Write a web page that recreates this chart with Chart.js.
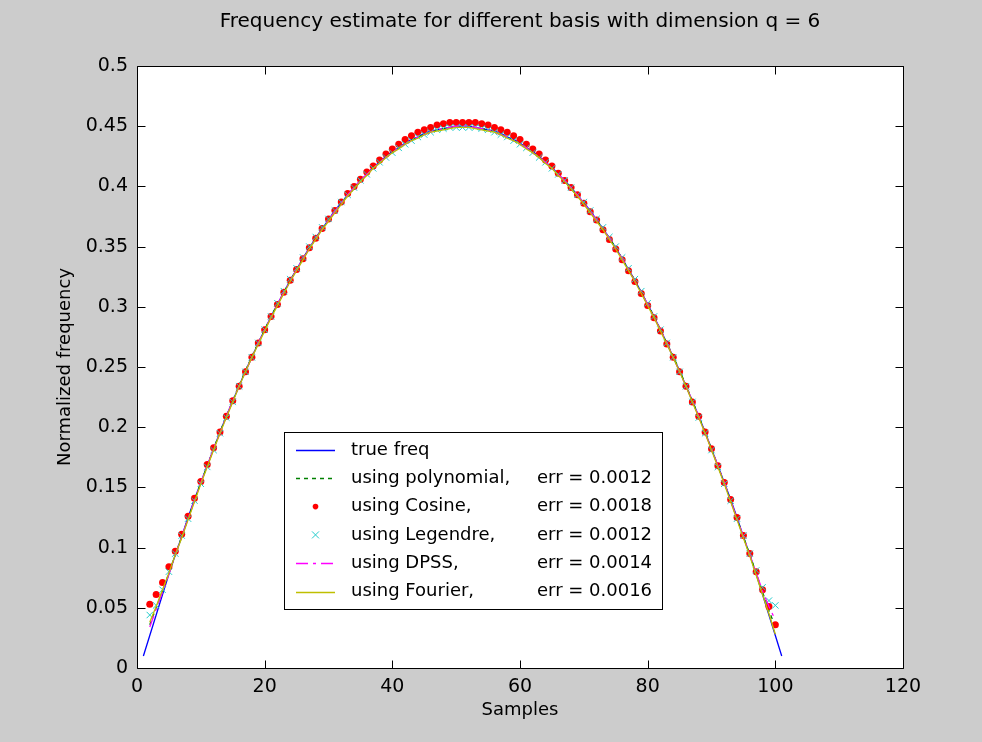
<!DOCTYPE html>
<html>
<head>
<meta charset="utf-8">
<title>Frequency estimate</title>
<script src="https://cdn.jsdelivr.net/npm/chart.js@4.4.1/dist/chart.umd.min.js"></script>
<style>
  html, body { margin: 0; padding: 0; background: #cccccc; }
  #chart { display: block; }
</style>
</head>
<body>
<canvas id="chart" width="982" height="742"></canvas>
<script>
// ticks
const xTicks = [0, 20, 40, 60, 80, 100, 120];
const xTickLabels = ['0', '20', '40', '60', '80', '100', '120'];
const yTicks = [0, 0.05, 0.1, 0.15, 0.2, 0.25, 0.3, 0.35, 0.4, 0.45, 0.5];
const yTickLabels = ['0', '0.05', '0.1', '0.15', '0.2', '0.25', '0.3', '0.35', '0.4', '0.45', '0.5'];

// legend text: name + error column
const seriesNames = ['true freq', 'using polynomial,', 'using Cosine,', 'using Legendre,', 'using DPSS,', 'using Fourier,'];
const seriesErrs = ['', 'err = 0.0012', 'err = 0.0018', 'err = 0.0012', 'err = 0.0014', 'err = 0.0016'];

// true frequency, samples 1..101
const trueFirst = 1;
const trueFreq = [
  0.010, 0.027, 0.044, 0.061, 0.078, 0.094, 0.109, 0.125, 0.140, 0.154,
  0.168, 0.182, 0.196, 0.209, 0.222, 0.234, 0.247, 0.258, 0.270, 0.281,
  0.292, 0.302, 0.312, 0.322, 0.331, 0.340, 0.349, 0.357, 0.365, 0.372,
  0.380, 0.386, 0.393, 0.399, 0.405, 0.410, 0.416, 0.420, 0.425, 0.429,
  0.432, 0.436, 0.439, 0.441, 0.444, 0.446, 0.447, 0.448, 0.449, 0.450,
  0.450,
  0.450, 0.449, 0.448, 0.447, 0.446, 0.444, 0.441, 0.439, 0.436, 0.432,
  0.429, 0.425, 0.420, 0.416, 0.410, 0.405, 0.399, 0.393, 0.386, 0.380,
  0.372, 0.365, 0.357, 0.349, 0.340, 0.331, 0.322, 0.312, 0.302, 0.292,
  0.281, 0.270, 0.258, 0.247, 0.234, 0.222, 0.209, 0.196, 0.182, 0.168,
  0.154, 0.140, 0.125, 0.109, 0.094, 0.078, 0.061, 0.044, 0.027, 0.010
];

// estimates, samples 2..100
const estFirst = 2;
const polyEst = [
  0.036, 0.050, 0.064, 0.079, 0.094, 0.109, 0.124, 0.139, 0.154,
  0.168, 0.182, 0.196, 0.209, 0.222, 0.235, 0.247, 0.259, 0.270, 0.281,
  0.292, 0.302, 0.312, 0.322, 0.331, 0.340, 0.349, 0.357, 0.365, 0.372,
  0.379, 0.386, 0.392, 0.398, 0.404, 0.410, 0.415, 0.420, 0.424, 0.428,
  0.432, 0.435, 0.438, 0.441, 0.443, 0.445, 0.447, 0.448, 0.449, 0.449,
  0.449, 0.449, 0.449, 0.448, 0.447, 0.445, 0.443, 0.441, 0.438, 0.435,
  0.432, 0.428, 0.424, 0.420, 0.415, 0.410, 0.404, 0.398, 0.392, 0.386,
  0.379, 0.372, 0.365, 0.357, 0.349, 0.340, 0.331, 0.322, 0.312, 0.302,
  0.292, 0.281, 0.270, 0.259, 0.247, 0.235, 0.222, 0.209, 0.196, 0.182,
  0.168, 0.154, 0.139, 0.124, 0.109, 0.094, 0.079, 0.063, 0.048, 0.034
];
const cosineEst = [
  0.053, 0.061, 0.071, 0.084, 0.097, 0.111, 0.126, 0.141, 0.155,
  0.169, 0.183, 0.196, 0.209, 0.222, 0.234, 0.246, 0.258, 0.270, 0.281,
  0.292, 0.302, 0.312, 0.322, 0.331, 0.340, 0.349, 0.357, 0.365, 0.373,
  0.380, 0.387, 0.394, 0.400, 0.406, 0.412, 0.417, 0.422, 0.427, 0.431,
  0.435, 0.439, 0.442, 0.445, 0.447, 0.449, 0.451, 0.452, 0.453, 0.453,
  0.453, 0.453, 0.453, 0.452, 0.451, 0.449, 0.447, 0.445, 0.442, 0.439,
  0.435, 0.431, 0.427, 0.422, 0.417, 0.411, 0.405, 0.399, 0.393, 0.386,
  0.379, 0.372, 0.364, 0.356, 0.348, 0.339, 0.330, 0.321, 0.311, 0.301,
  0.291, 0.280, 0.269, 0.258, 0.246, 0.234, 0.221, 0.209, 0.196, 0.182,
  0.168, 0.154, 0.140, 0.125, 0.110, 0.095, 0.080, 0.065, 0.051, 0.036
];
const legendreEst = [
  0.044, 0.052, 0.065, 0.080, 0.095, 0.110, 0.124, 0.139, 0.153,
  0.167, 0.181, 0.195, 0.208, 0.221, 0.234, 0.246, 0.258, 0.270, 0.281,
  0.292, 0.303, 0.313, 0.323, 0.332, 0.341, 0.350, 0.358, 0.366, 0.373,
  0.380, 0.387, 0.393, 0.399, 0.405, 0.410, 0.415, 0.420, 0.424, 0.428,
  0.432, 0.435, 0.438, 0.441, 0.443, 0.445, 0.447, 0.448, 0.449, 0.449,
  0.449, 0.449, 0.449, 0.448, 0.447, 0.445, 0.443, 0.441, 0.438, 0.435,
  0.432, 0.428, 0.424, 0.420, 0.415, 0.410, 0.405, 0.399, 0.393, 0.387,
  0.380, 0.373, 0.366, 0.358, 0.350, 0.341, 0.332, 0.323, 0.313, 0.303,
  0.292, 0.281, 0.270, 0.258, 0.246, 0.234, 0.221, 0.208, 0.195, 0.181,
  0.167, 0.153, 0.139, 0.124, 0.110, 0.095, 0.081, 0.067, 0.056, 0.052
];
const dpssEst = [
  0.034, 0.049, 0.063, 0.078, 0.094, 0.109, 0.124, 0.139, 0.154,
  0.168, 0.182, 0.195, 0.209, 0.222, 0.234, 0.246, 0.258, 0.270, 0.281,
  0.291, 0.302, 0.312, 0.321, 0.331, 0.340, 0.348, 0.357, 0.364, 0.372,
  0.379, 0.386, 0.393, 0.399, 0.405, 0.410, 0.415, 0.420, 0.424, 0.428,
  0.432, 0.435, 0.438, 0.441, 0.443, 0.445, 0.447, 0.448, 0.449, 0.450,
  0.450, 0.450, 0.449, 0.448, 0.447, 0.445, 0.443, 0.441, 0.438, 0.435,
  0.432, 0.428, 0.424, 0.420, 0.415, 0.410, 0.405, 0.399, 0.393, 0.386,
  0.379, 0.372, 0.364, 0.357, 0.348, 0.340, 0.331, 0.321, 0.312, 0.302,
  0.291, 0.281, 0.270, 0.258, 0.246, 0.234, 0.222, 0.209, 0.195, 0.182,
  0.168, 0.154, 0.139, 0.124, 0.109, 0.094, 0.079, 0.064, 0.051, 0.040
];
const fourierEst = [
  0.038, 0.051, 0.065, 0.079, 0.094, 0.108, 0.123, 0.138, 0.153,
  0.167, 0.181, 0.195, 0.208, 0.221, 0.234, 0.246, 0.258, 0.269, 0.280,
  0.291, 0.301, 0.311, 0.321, 0.330, 0.339, 0.348, 0.356, 0.364, 0.371,
  0.378, 0.385, 0.392, 0.398, 0.404, 0.409, 0.415, 0.419, 0.424, 0.428,
  0.431, 0.435, 0.438, 0.440, 0.443, 0.445, 0.446, 0.447, 0.448, 0.449,
  0.449, 0.449, 0.448, 0.447, 0.446, 0.445, 0.443, 0.440, 0.438, 0.435,
  0.431, 0.428, 0.424, 0.419, 0.415, 0.409, 0.404, 0.398, 0.392, 0.385,
  0.378, 0.371, 0.364, 0.356, 0.348, 0.339, 0.330, 0.321, 0.311, 0.301,
  0.291, 0.280, 0.269, 0.258, 0.246, 0.234, 0.221, 0.208, 0.195, 0.181,
  0.167, 0.153, 0.138, 0.123, 0.108, 0.093, 0.077, 0.061, 0.045, 0.028
];

const FONT = '"DejaVu Sans", sans-serif';
const toPoints = (vals, first) => vals.map((v, i) => ({ x: first + i, y: v }));

// draws the matlab-ish box, inward ticks and the legend
const matlabAxes = {
  id: 'matlabAxes',
  beforeDraw(chart) {
    const { ctx, chartArea: a } = chart;
    ctx.save();
    ctx.fillStyle = '#cccccc';
    ctx.fillRect(0, 0, chart.width, chart.height);
    ctx.fillStyle = '#ffffff';
    ctx.fillRect(a.left, a.top, a.right - a.left, a.bottom - a.top);
    ctx.restore();
  },
  afterDatasetsDraw(chart) {
    const { ctx, chartArea: a, scales } = chart;
    const L = Math.round(a.left) + 0.5, R = Math.round(a.right) + 0.5;
    const T = Math.round(a.top) + 0.5, B = Math.round(a.bottom) + 0.5;
    const tick = 8;
    ctx.save();
    ctx.strokeStyle = '#000000';
    ctx.lineWidth = 1;
    ctx.beginPath();
    ctx.rect(L, T, R - L, B - T);
    scales.x.ticks.forEach(t => {
      const px = Math.round(scales.x.getPixelForValue(t.value)) + 0.5;
      ctx.moveTo(px, B); ctx.lineTo(px, B - tick);
      ctx.moveTo(px, T); ctx.lineTo(px, T + tick);
    });
    scales.y.ticks.forEach(t => {
      const py = Math.round(scales.y.getPixelForValue(t.value)) + 0.5;
      ctx.moveTo(L, py); ctx.lineTo(L + tick, py);
      ctx.moveTo(R, py); ctx.lineTo(R - tick, py);
    });
    ctx.stroke();
    ctx.restore();
  },
  afterDraw(chart) {
    const ctx = chart.ctx;
    const box = { x: 284.5, y: 432.5, w: 378, h: 177 };
    const rowY0 = 450, rowGap = 28.3;
    const s0 = 296, s1 = 335, textX = 351, errX = 537;
    ctx.save();
    ctx.fillStyle = '#ffffff';
    ctx.fillRect(box.x, box.y, box.w, box.h);
    ctx.strokeStyle = '#000000';
    ctx.lineWidth = 1;
    ctx.strokeRect(box.x, box.y, box.w, box.h);
    ctx.font = '18px ' + FONT;
    ctx.textBaseline = 'middle';
    chart.data.datasets.forEach((ds, i) => {
      const y = rowY0 + i * rowGap;
      const mid = (s0 + s1) / 2;
      if (ds.showLine === false) {
        if (ds.pointStyle === 'circle') {
          ctx.fillStyle = ds.backgroundColor;
          ctx.beginPath();
          ctx.arc(mid, y, 2.8, 0, Math.PI * 2);
          ctx.fill();
        } else {
          ctx.strokeStyle = ds.borderColor;
          ctx.lineWidth = 1;
          ctx.beginPath();
          ctx.moveTo(mid - 3.5, y - 3.5); ctx.lineTo(mid + 3.5, y + 3.5);
          ctx.moveTo(mid + 3.5, y - 3.5); ctx.lineTo(mid - 3.5, y + 3.5);
          ctx.stroke();
        }
      } else {
        ctx.strokeStyle = ds.borderColor;
        ctx.lineWidth = 1.5;
        ctx.setLineDash(ds.borderDash || []);
        ctx.beginPath();
        ctx.moveTo(s0, Math.round(y) + 0.5);
        ctx.lineTo(s1, Math.round(y) + 0.5);
        ctx.stroke();
        ctx.setLineDash([]);
      }
      ctx.fillStyle = '#000000';
      ctx.textAlign = 'left';
      const name = seriesNames[i];
      ctx.fillText(name, textX, y);
      if (seriesErrs[i]) {
        const x = Math.max(errX, textX + ctx.measureText(name + ' ').width);
        ctx.fillText(seriesErrs[i], x, y);
      }
    });
    ctx.restore();
  }
};

const lineBase = { pointRadius: 0, borderWidth: 1.3, tension: 0, fill: false };

new Chart(document.getElementById('chart'), {
  type: 'line',
  data: {
    datasets: [
      { ...lineBase, label: seriesNames[0], data: toPoints(trueFreq, trueFirst), borderColor: '#0000ff', order: 6 },
      { ...lineBase, label: seriesNames[1], data: toPoints(polyEst, estFirst), borderColor: '#008000', borderDash: [4, 4], order: 5 },
      { label: seriesNames[2], data: toPoints(cosineEst, estFirst), showLine: false, pointStyle: 'circle',
        pointRadius: 3.5, backgroundColor: '#ff0000', borderColor: '#ff0000', borderWidth: 0, order: 4 },
      { label: seriesNames[3], data: toPoints(legendreEst, estFirst), showLine: false, pointStyle: 'crossRot',
        pointRadius: 4.5, borderColor: '#22cccc', backgroundColor: '#22cccc', borderWidth: 1, order: 3 },
      { ...lineBase, label: seriesNames[4], data: toPoints(dpssEst, estFirst), borderColor: '#ff00ff', borderDash: [12, 5, 3, 5], order: 2 },
      { ...lineBase, label: seriesNames[5], data: toPoints(fourierEst, estFirst), borderColor: '#bfbf00', order: 1 }
    ]
  },
  options: {
    responsive: false,
    animation: false,
    events: [],
    layout: { padding: { left: 0, right: 79, top: 0, bottom: 0 } },
    plugins: {
      legend: { display: false },
      tooltip: { enabled: false },
      title: {
        display: true,
        fullSize: false,
        text: 'Frequency estimate for different basis with dimension q = 6',
        color: '#000000',
        font: { family: FONT, size: 20, weight: 'normal', lineHeight: 1.2 },
        padding: { top: 10, bottom: 32 }
      }
    },
    scales: {
      x: {
        type: 'linear',
        min: 0,
        max: 120,
        afterBuildTicks: s => { s.ticks = xTicks.map(v => ({ value: v })); },
        afterFit: s => { s.height = 74; },
        grid: { display: false, drawTicks: false },
        border: { display: false },
        ticks: {
          padding: 8,
          color: '#000000',
          maxRotation: 0,
          font: { family: FONT, size: 19 },
          callback: (v, i) => xTickLabels[i]
        },
        title: {
          display: true,
          text: 'Samples',
          color: '#000000',
          font: { family: FONT, size: 18 },
          padding: { top: 0, bottom: 21 }
        }
      },
      y: {
        type: 'linear',
        min: 0,
        max: 0.5,
        afterBuildTicks: s => { s.ticks = yTicks.map(v => ({ value: v })); },
        afterFit: s => { s.width = 137; },
        grid: { display: false, drawTicks: false },
        border: { display: false },
        ticks: {
          padding: 9,
          color: '#000000',
          font: { family: FONT, size: 19 },
          callback: (v, i) => yTickLabels[i]
        },
        title: {
          display: true,
          text: 'Normalized frequency',
          color: '#000000',
          font: { family: FONT, size: 18 },
          padding: { top: 55, bottom: 0 }
        }
      }
    }
  },
  plugins: [matlabAxes]
});
</script>
</body>
</html>
